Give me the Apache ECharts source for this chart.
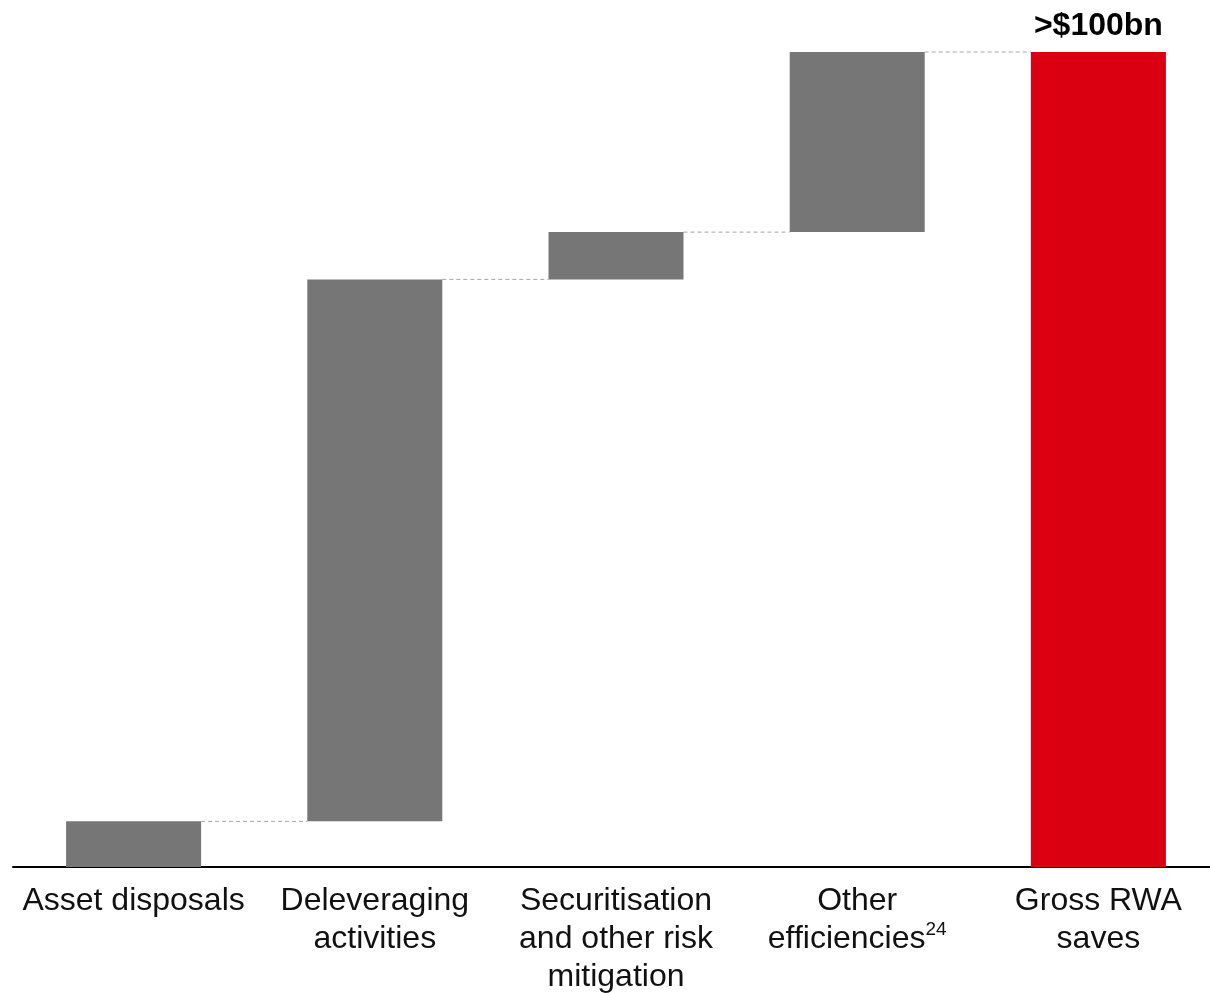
<!DOCTYPE html>
<html>
<head>
<meta charset="utf-8">
<script src="https://cdn.jsdelivr.net/npm/echarts@6/dist/echarts.min.js"></script>
<style>
html,body{margin:0;padding:0;background:#fff;}
#chart{width:1210px;height:993px;}
</style>
</head>
<body>
<div id="chart"></div>
<script>
// Data
const categories = ['Asset disposals', 'Deleveraging\nactivities', 'Securitisation\nand other risk\nmitigation', 'Other\nefficiencies{sup|24}', 'Gross RWA\nsaves'];
const stepValues = [5.6, 66.5, 5.8, 22.1];
const totalValue = 100;
const totalLabel = '>$100bn';

// Build waterfall bases (derived from the values above)
const bases = [];
let run = 0;
stepValues.forEach(v => { bases.push(run); run += v; });
bases.push(0);
const visible = stepValues.concat([totalValue]);
const tops = bases.map((b, i) => b + visible[i]);

const GREY = '#767676', RED = '#DB0011';
const FONT = 'Liberation Sans, Arial, sans-serif';
const BAR_W = 135;

const chart = echarts.init(document.getElementById('chart'));
chart.setOption({
  animation: false,
  grid: { left: 13, width: 1206, top: 52, bottom: 126, outerBoundsMode: 'none', containLabel: false },
  xAxis: {
    type: 'category',
    data: categories,
    axisLine: { lineStyle: { color: '#000', width: 2 } },
    axisTick: { show: false },
    axisLabel: {
      interval: 0,
      margin: 15,
      color: '#111',
      fontFamily: FONT,
      fontSize: 32,
      lineHeight: 38,
      rich: {
        sup: { fontSize: 19, verticalAlign: 'top', lineHeight: 38, padding: [0, 0, 3, 0], color: '#111', fontFamily: FONT }
      }
    }
  },
  yAxis: {
    type: 'value', min: 0, max: totalValue,
    show: false, splitLine: { show: false }
  },
  series: [
    {
      type: 'bar', stack: 'w', barWidth: BAR_W,
      itemStyle: { color: 'transparent' },
      data: bases, silent: true
    },
    {
      type: 'bar', stack: 'w', barWidth: BAR_W,
      data: visible.map((v, i) => ({
        value: v,
        itemStyle: { color: i === visible.length - 1 ? RED : GREY },
        label: i === visible.length - 1 ? {
          show: true, position: 'top', distance: 10,
          formatter: totalLabel, color: '#000', fontWeight: 'bold',
          fontSize: 32, fontFamily: FONT
        } : { show: false }
      }))
    },
    {
      type: 'custom',
      silent: true,
      data: tops.slice(0, tops.length - 1).map((t, i) => [i, t]),
      renderItem: function (params, api) {
        const i = api.value(0), y = api.value(1);
        const p1 = api.coord([i, y]);
        const p2 = api.coord([i + 1, y]);
        const half = BAR_W / 2;
        return {
          type: 'line',
          shape: { x1: p1[0] + half, y1: p1[1], x2: p2[0] - half, y2: p2[1] },
          style: { stroke: '#a6a6a6', lineWidth: 1, lineDash: [4, 3] }
        };
      }
    }
  ]
});
</script>
</body>
</html>
